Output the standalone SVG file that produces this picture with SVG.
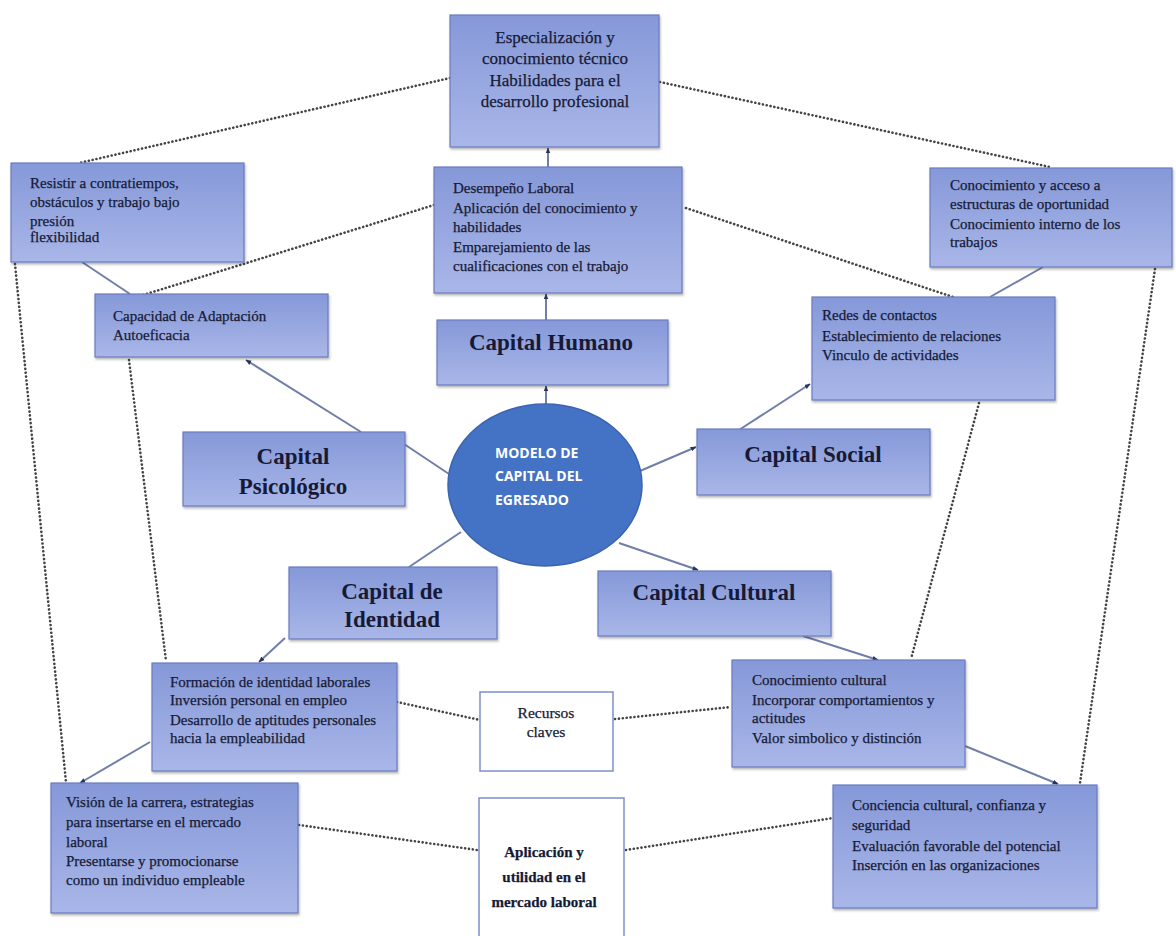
<svg xmlns="http://www.w3.org/2000/svg" width="1176" height="936" viewBox="0 0 1176 936">
<defs>
<linearGradient id="bg" x1="0" y1="0" x2="0" y2="1">
<stop offset="0" stop-color="#8598d8"/>
<stop offset="1" stop-color="#a9b6e8"/>
</linearGradient>
<filter id="sh" x="-5%" y="-5%" width="110%" height="115%">
<feDropShadow dx="1" dy="2" stdDeviation="1" flood-color="#333" flood-opacity="0.35"/>
</filter>
<marker id="ar" viewBox="0 0 10 10" refX="9" refY="5" markerWidth="6" markerHeight="6" orient="auto" markerUnits="userSpaceOnUse">
<path d="M0,1 L10,5 L0,9 z" fill="#2a3360"/>
</marker>
<style>
.box{fill:url(#bg);stroke:#6a7cc0;stroke-width:1.2;filter:url(#sh)}
.wbox{fill:#fff;stroke:#7f8fc8;stroke-width:1.5}
.t{font-family:"Liberation Serif",serif;font-size:15px;fill:#161a36;stroke:#161a36;stroke-width:0.25}
.tc{font-family:"Liberation Serif",serif;font-size:15.5px;fill:#161a36;stroke:#161a36;stroke-width:0.25;text-anchor:middle}
.cap{font-family:"Liberation Serif",serif;font-size:23px;font-weight:bold;fill:#161a36;text-anchor:middle}
.ct{font-family:"Open Sans","Liberation Sans",sans-serif;font-size:14px;font-weight:bold;fill:#fff}
.sl{stroke:#6f7fa8;stroke-width:2;fill:none}
.dl{stroke:#444;stroke-width:2.6;fill:none;stroke-dasharray:0.1 3.8;stroke-linecap:round}
</style>
</defs>

<g id="connectors">
<line class="dl" x1="450" y1="78" x2="79" y2="163"/>
<line class="dl" x1="660" y1="82" x2="1050" y2="167"/>
<line class="dl" x1="434" y1="205" x2="143" y2="295"/>
<line class="dl" x1="686" y1="208" x2="953" y2="297"/>
<line class="dl" x1="15" y1="264" x2="66" y2="782"/>
<line class="dl" x1="129" y1="360" x2="166" y2="661"/>
<line class="dl" x1="1155" y1="269" x2="1080" y2="783"/>
<line class="dl" x1="979" y1="403" x2="911" y2="659"/>
<line class="dl" x1="397" y1="702" x2="480" y2="720"/>
<line class="dl" x1="615" y1="719" x2="731" y2="707"/>
<line class="dl" x1="299" y1="825" x2="477" y2="850"/>
<line class="dl" x1="626" y1="850" x2="833" y2="818"/>

<line class="sl" x1="548" y1="167" x2="548" y2="148" marker-end="url(#ar)"/>
<line class="sl" x1="546" y1="320" x2="546" y2="294" marker-end="url(#ar)"/>
<line class="sl" x1="546" y1="404" x2="546" y2="386" marker-end="url(#ar)"/>
<line class="sl" x1="449" y1="474" x2="404" y2="444"/>
<line class="sl" x1="361" y1="432" x2="246" y2="360" marker-end="url(#ar)"/>
<line class="sl" x1="82" y1="262" x2="130" y2="294"/>
<line class="sl" x1="640" y1="471" x2="696" y2="447" marker-end="url(#ar)"/>
<line class="sl" x1="739" y1="430" x2="810" y2="384" marker-end="url(#ar)"/>
<line class="sl" x1="990" y1="297" x2="1043" y2="267"/>
<line class="sl" x1="461" y1="532" x2="409" y2="567"/>
<line class="sl" x1="285" y1="638" x2="259" y2="662" marker-end="url(#ar)"/>
<line class="sl" x1="150" y1="742" x2="80" y2="783" marker-end="url(#ar)"/>
<line class="sl" x1="619" y1="543" x2="698" y2="570" marker-end="url(#ar)"/>
<line class="sl" x1="803" y1="636" x2="878" y2="660" marker-end="url(#ar)"/>
<line class="sl" x1="965" y1="746" x2="1058" y2="784" marker-end="url(#ar)"/>
</g>

<g id="especializacion">
<rect class="box" x="450" y="15" width="209" height="132"/>
<text class="tc" style="font-size:17px" x="555" y="43">Especialización y</text>
<text class="tc" style="font-size:17px" x="555" y="64">conocimiento técnico</text>
<text class="tc" style="font-size:17px" x="555" y="86">Habilidades para el</text>
<text class="tc" style="font-size:17px" x="555" y="107">desarrollo profesional</text>
</g>

<g id="resistir">
<rect class="box" x="11" y="163" width="233" height="99"/>
<text class="t" x="30" y="188">Resistir a contratiempos,</text>
<text class="t" x="30" y="207">obstáculos y trabajo bajo</text>
<text class="t" x="30" y="226">presión</text>
<text class="t" x="30" y="242">flexibilidad</text>
</g>

<g id="desempeno">
<rect class="box" x="434" y="167" width="248" height="126"/>
<text class="t" x="453" y="193">Desempeño Laboral</text>
<text class="t" x="453" y="213">Aplicación del conocimiento y</text>
<text class="t" x="453" y="232">habilidades</text>
<text class="t" x="453" y="252">Emparejamiento de las</text>
<text class="t" x="453" y="271">cualificaciones con el trabajo</text>
</g>

<g id="oportunidad">
<rect class="box" x="930" y="168" width="242" height="99"/>
<text class="t" x="950" y="190">Conocimiento y acceso a</text>
<text class="t" x="950" y="209">estructuras de oportunidad</text>
<text class="t" x="950" y="229">Conocimiento interno de los</text>
<text class="t" x="950" y="247">trabajos</text>
</g>

<g id="capacidad">
<rect class="box" x="95" y="294" width="233" height="63"/>
<text class="t" x="113" y="321">Capacidad de Adaptación</text>
<text class="t" x="113" y="340">Autoeficacia</text>
</g>

<g id="capital-humano">
<rect class="box" x="437" y="320" width="231" height="65"/>
<text class="cap" x="551" y="350">Capital Humano</text>
</g>

<g id="redes">
<rect class="box" x="812" y="297" width="243" height="103"/>
<text class="t" x="822" y="320">Redes de contactos</text>
<text class="t" x="822" y="341">Establecimiento de relaciones</text>
<text class="t" x="822" y="360">Vinculo de actividades</text>
</g>

<g id="capital-psicologico">
<rect class="box" x="183" y="432" width="222" height="74"/>
<text class="cap" x="293" y="464">Capital</text>
<text class="cap" x="293" y="494">Psicológico</text>
</g>

<g id="modelo">
<ellipse cx="545" cy="485" rx="97" ry="81" fill="#4472c4" stroke="#3b64b0" stroke-width="1.5"/>
<text class="ct" x="495" y="458">MODELO DE</text>
<text class="ct" x="495" y="481">CAPITAL DEL</text>
<text class="ct" x="495" y="505">EGRESADO</text>
</g>

<g id="capital-social">
<rect class="box" x="697" y="429" width="233" height="66"/>
<text class="cap" x="813" y="462">Capital Social</text>
</g>

<g id="capital-identidad">
<rect class="box" x="289" y="567" width="208" height="72"/>
<text class="cap" x="392" y="599">Capital de</text>
<text class="cap" x="392" y="627">Identidad</text>
</g>

<g id="capital-cultural">
<rect class="box" x="598" y="571" width="233" height="65"/>
<text class="cap" x="714" y="600">Capital Cultural</text>
</g>

<g id="formacion">
<rect class="box" x="152" y="663" width="245" height="108"/>
<text class="t" x="170" y="687">Formación de identidad laborales</text>
<text class="t" x="170" y="705">Inversión personal en empleo</text>
<text class="t" x="170" y="725">Desarrollo de aptitudes personales</text>
<text class="t" x="170" y="743">hacia la empleabilidad</text>
</g>

<g id="recursos">
<rect class="wbox" x="480" y="692" width="133" height="79"/>
<text class="tc" x="546" y="718">Recursos</text>
<text class="tc" x="546" y="737">claves</text>
</g>

<g id="conocimiento-cultural">
<rect class="box" x="732" y="660" width="233" height="107"/>
<text class="t" x="752" y="685">Conocimiento cultural</text>
<text class="t" x="752" y="705">Incorporar comportamientos y</text>
<text class="t" x="752" y="723">actitudes</text>
<text class="t" x="752" y="743">Valor simbolico y distinción</text>
</g>

<g id="vision">
<rect class="box" x="51" y="783" width="247" height="130"/>
<text class="t" x="66" y="807">Visión de la carrera, estrategias</text>
<text class="t" x="66" y="827">para insertarse en el mercado</text>
<text class="t" x="66" y="847">laboral</text>
<text class="t" x="66" y="866">Presentarse y promocionarse</text>
<text class="t" x="66" y="885">como un individuo empleable</text>
</g>

<g id="aplicacion">
<rect class="wbox" x="479" y="798" width="145" height="150"/>
<text class="tc" style="font-weight:bold;font-size:15px" x="544" y="857">Aplicación y</text>
<text class="tc" style="font-weight:bold;font-size:15px" x="544" y="882">utilidad en el</text>
<text class="tc" style="font-weight:bold;font-size:15px" x="544" y="907">mercado laboral</text>
</g>

<g id="conciencia">
<rect class="box" x="833" y="785" width="264" height="123"/>
<text class="t" x="852" y="810">Conciencia cultural, confianza y</text>
<text class="t" x="852" y="830">seguridad</text>
<text class="t" x="852" y="851">Evaluación favorable del potencial</text>
<text class="t" x="852" y="870">Inserción en las organizaciones</text>
</g>
</svg>
